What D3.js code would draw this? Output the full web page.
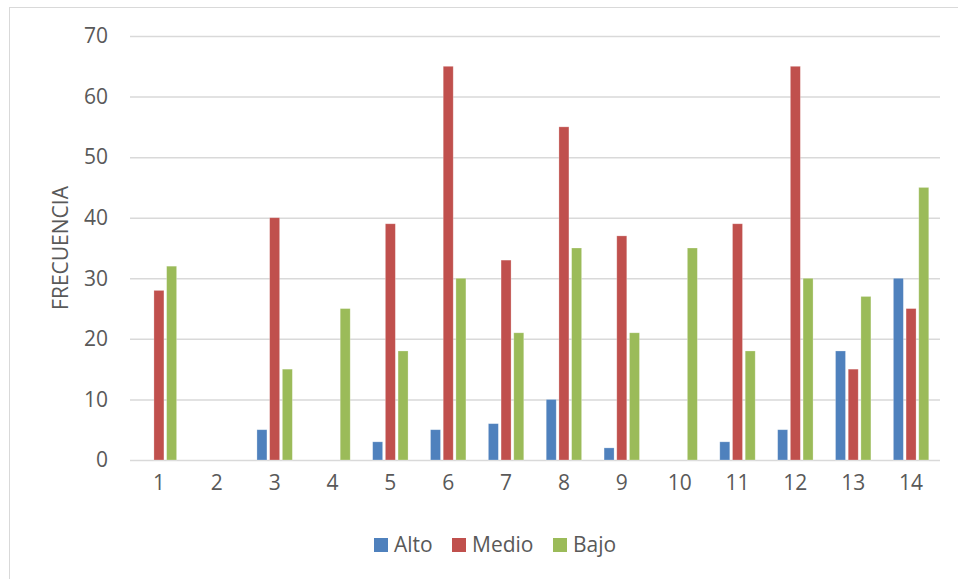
<!DOCTYPE html>
<html>
<head>
<meta charset="utf-8">
<script src="https://cdn.jsdelivr.net/npm/d3@7"></script>
<style>
  html, body { margin: 0; padding: 0; background: #fff; }
  svg { display: block; }
  text { font-family: "Open Sans", "Noto Sans", sans-serif; fill: #595959; }
</style>
</head>
<body>
<svg id="chart" width="958" height="579"></svg>
<script>
// Frequencies per group (1..14) by level
const categories = ["1","2","3","4","5","6","7","8","9","10","11","12","13","14"];
const seriesNames = ["Alto", "Medio", "Bajo"];
const alto  = [0, 0, 5, 0, 3, 5, 6, 10, 2, 0, 3, 5, 18, 30];
const medio = [28, 0, 40, 0, 39, 65, 33, 55, 37, 0, 39, 65, 15, 25];
const bajo  = [32, 0, 15, 25, 18, 30, 21, 35, 21, 35, 18, 30, 27, 45];
const yTicks = [0, 10, 20, 30, 40, 50, 60, 70];
const colors = ["#4F81BD", "#C0504D", "#9BBB59"];

const seriesValues = [alto, medio, bajo];
const svg = d3.select("#chart");

// outer frame
svg.append("rect")
  .attr("x", 9.5).attr("y", 7.5)
  .attr("width", 960).attr("height", 590)
  .attr("fill", "none").attr("stroke", "#D9D9D9").attr("stroke-width", 1);

const plot = { left: 130, right: 940, top: 36, bottom: 460 };

const x = d3.scaleBand().domain(categories).range([plot.left, plot.right]).padding(0);
const xs = d3.scaleBand().domain(seriesNames).range([0, x.bandwidth()])
  .paddingInner(0.213).paddingOuter(0.884);
const y = d3.scaleLinear().domain([0, 70]).range([plot.bottom, plot.top]);

// gridlines + y labels
const yAxis = d3.axisLeft(y).tickValues(yTicks).tickSize(-(plot.right - plot.left)).tickPadding(22);
const gy = svg.append("g").attr("transform", `translate(${plot.left},0)`).call(yAxis);
gy.select(".domain").remove();
gy.selectAll(".tick line").attr("stroke", "#D9D9D9").attr("stroke-width", 1.5);
gy.selectAll(".tick text").attr("font-size", 21).attr("fill", "#595959")
  .style("font-family", "'Open Sans', sans-serif");

// x labels
const xAxis = d3.axisBottom(x).tickSize(0).tickPadding(15);
const gx = svg.append("g").attr("transform", `translate(0,${plot.bottom})`).call(xAxis);
gx.select(".domain").remove();
gx.selectAll(".tick text").attr("font-size", 21).attr("fill", "#595959")
  .style("font-family", "'Open Sans', sans-serif");

// bars
const rows = [];
categories.forEach((c, i) => {
  seriesNames.forEach((s, j) => {
    const v = seriesValues[j][i];
    if (v > 0) rows.push({ c, s, v, color: colors[j] });
  });
});
svg.append("g").selectAll("rect").data(rows).join("rect")
  .attr("x", d => x(d.c) + xs(d.s))
  .attr("y", d => y(d.v))
  .attr("width", xs.bandwidth())
  .attr("height", d => y(0) - y(d.v))
  .attr("fill", d => d.color)
  .attr("stroke", "#ffffff").attr("stroke-opacity", 0.35).attr("stroke-width", 0.75);

// y title
svg.append("text")
  .attr("transform", "translate(68,248) rotate(-90)")
  .attr("text-anchor", "middle")
  .attr("font-size", 21)
  .text("FRECUENCIA");

// legend
const legendItems = [
  { name: "Alto", x: 374 },
  { name: "Medio", x: 452 },
  { name: "Bajo", x: 553 }
];
const lg = svg.append("g");
legendItems.forEach((d, i) => {
  lg.append("rect").attr("x", d.x).attr("y", 538).attr("width", 14).attr("height", 14)
    .attr("fill", colors[i]);
  lg.append("text").attr("x", d.x + 20).attr("y", 552).attr("font-size", 21).text(d.name);
});
</script>
</body>
</html>
